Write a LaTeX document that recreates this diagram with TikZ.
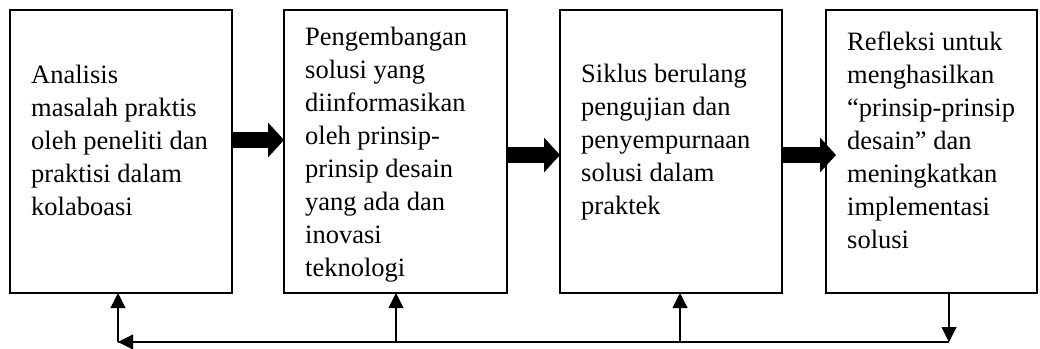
\documentclass[tikz,border=0pt]{standalone}
\usepackage{fontspec}
\setmainfont{Liberation Serif}
\usetikzlibrary{arrows.meta}
\begin{document}
\begin{tikzpicture}[x=1pt,y=-1pt,
  box/.style={draw, line width=2pt, minimum width=#1, minimum height=283pt, inner sep=0pt, outer sep=0pt, anchor=north west},
  txt/.style={align=left, inner sep=0pt, anchor=base west, font=\fontsize{26.5}{33}\selectfont},
  bigarrow/.style={line width=16pt, -{Triangle[length=16pt,width=34pt]}},
  fb/.style={line width=1.1pt},
  fbarrow/.style={fb, -{Triangle[length=15pt,width=15pt]}}]
\useasboundingbox (0,0) rectangle (1040,348);
% boxes
\node[box=222pt] (b1) at (10,10) {};
\node[box=223pt] (b2) at (284,10) {};
\node[box=222pt] (b3) at (560,10) {};
\node[box=211pt] (b4) at (826,10) {};
% texts (anchored at the baseline of their last line)
\node[txt] (t1) at (31,215) {Analisis\\masalah praktis\\oleh peneliti dan\\praktisi dalam\\kolaboasi};
\node[txt] (t2) at (305,276) {Pengembangan\\solusi yang\\diinformasikan\\oleh prinsip-\\prinsip desain\\yang ada dan\\inovasi\\teknologi};
\node[txt] (t3) at (581,214) {Siklus berulang\\pengujian dan\\penyempurnaan\\solusi dalam\\praktek};
\node[txt] (t4) at (847,248) {Refleksi untuk\\menghasilkan\\“prinsip-prinsip\\desain” dan\\meningkatkan\\implementasi\\solusi};
% thick arrows
\draw[bigarrow] ([yshift=-130pt]b1.north east) -- ([yshift=-130pt]b2.north west);
\draw[bigarrow] ([yshift=-145pt]b2.north east) -- ([yshift=-145pt]b3.north west);
\draw[bigarrow] ([yshift=-145pt]b3.north east) -- ([xshift=10pt,yshift=-145pt]b4.north west);
% feedback loop
\coordinate (f1) at (118,342);
\coordinate (f2) at (396,342);
\coordinate (f3) at (680,342);
\coordinate (f4) at (949,342);
\draw[fb] (f4) -- (f1);
\draw[fbarrow] (f4 |- b4.south) -- (f4);
\draw[fbarrow] (f2) -- (f1);
\draw[fbarrow] (f1) -- (f1 |- b1.south);
\draw[fbarrow] (f2) -- (f2 |- b2.south);
\draw[fbarrow] (f3) -- (f3 |- b3.south);
\end{tikzpicture}
\end{document}
